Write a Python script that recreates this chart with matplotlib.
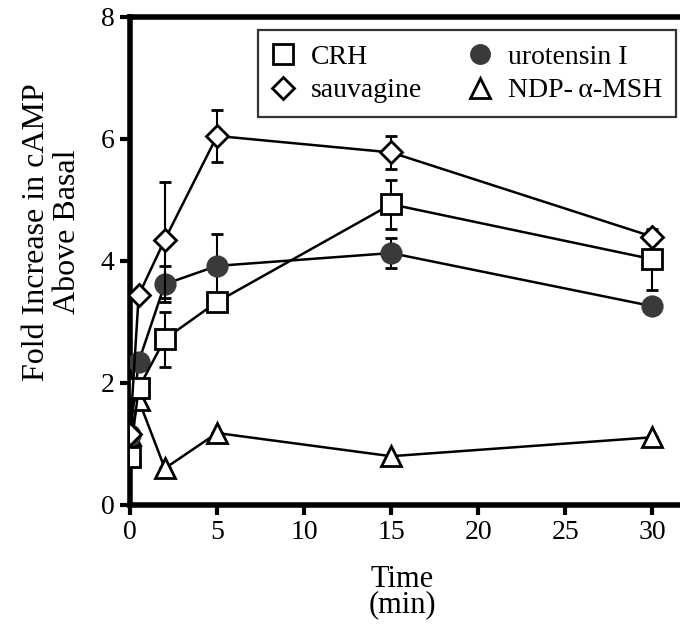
import numpy as np
import matplotlib
matplotlib.use("Agg")
import matplotlib.pyplot as plt
from matplotlib.lines import Line2D

plt.rcParams["font.family"] = ["Liberation Serif", "DejaVu Serif"]

# tempo (min)
time = [0, 0.5, 2, 5, 15, 30]

crh = [0.78, 1.92, 2.72, 3.33, 4.93, 4.03]
crh_err = [0, 0, 0.45, 0, 0.4, 0.5]

sauvagine = [1.17, 3.44, 4.35, 6.05, 5.78, 4.40]
sauv_err = [0, 0, 0.95, 0.42, 0.27, 0.1]

urotensin = [1.15, 2.35, 3.62, 3.92, 4.13, 3.26]
uro_err = [0, 0, 0.3, 0.52, 0.25, 0.05]

ndp = [1.15, 1.72, 0.6, 1.18, 0.8, 1.11]
ndp_err = [0, 0, 0, 0, 0, 0]

fig = plt.figure(figsize=(6.8, 6.36), dpi=100)
ax = fig.add_axes([130 / 680, 131 / 636, 550 / 680, 488 / 636])

common = dict(color="black", linewidth=1.8, capsize=4, capthick=1.5,
              elinewidth=1.5, markeredgewidth=2.0, markeredgecolor="black")

ax.errorbar(time, ndp, yerr=ndp_err, marker="^", markersize=14,
            markerfacecolor="white", zorder=3, **common)
ax.errorbar(time, urotensin, yerr=uro_err, marker="o", markersize=14,
            markerfacecolor="#3a3a3a", zorder=4,
            **{**common, "markeredgecolor": "#3a3a3a"})
ax.errorbar(time, crh, yerr=crh_err, marker="s", markersize=14,
            markerfacecolor="white", zorder=5, **common)
ax.errorbar(time, sauvagine, yerr=sauv_err, marker="D", markersize=11,
            markerfacecolor="white", zorder=6, **common)

ax.set_xlim(0, 31.6)
ax.set_ylim(0, 8)
ax.set_xticks([0, 5, 10, 15, 20, 25, 30])
ax.set_yticks([0, 2, 4, 6, 8])

for side in ["left", "bottom", "top"]:
    ax.spines[side].set_linewidth(4)
ax.spines["right"].set_visible(False)
ax.tick_params(direction="out", length=7, width=3, labelsize=20, pad=4)

ax.set_ylabel("Fold Increase in cAMP\nAbove Basal", fontsize=23, linespacing=1.1)
ax.yaxis.set_label_coords(-0.087, 0.559)
ax.set_xlabel("Time\n(min)", fontsize=22, linespacing=0.85)
ax.xaxis.set_label_coords(0.495, -0.122)

# legenda só com os marcadores
mk = dict(linestyle="none", markeredgecolor="black", markeredgewidth=2.0)
leg_handles = [
    Line2D([], [], marker="s", markersize=14, markerfacecolor="white", **mk),
    Line2D([], [], marker="D", markersize=11, markerfacecolor="white", **mk),
    Line2D([], [], marker="o", markersize=14, markerfacecolor="#3a3a3a",
           linestyle="none", markeredgecolor="#3a3a3a"),
    Line2D([], [], marker="^", markersize=14, markerfacecolor="white", **mk),
]
leg_labels = ["CRH", "sauvagine", "urotensin I", "NDP-\u2009\u03b1-MSH"]
leg = ax.legend(leg_handles, leg_labels,
                ncol=2, loc="upper right", bbox_to_anchor=(0.993, 0.973),
                borderaxespad=0, fontsize=20, frameon=True, fancybox=False,
                edgecolor="black", handlelength=0.8, handletextpad=0.6,
                columnspacing=1.7, borderpad=0.5, labelspacing=0.3)
leg.get_frame().set_linewidth(1.6)

fig.savefig("out.png", dpi=100)
